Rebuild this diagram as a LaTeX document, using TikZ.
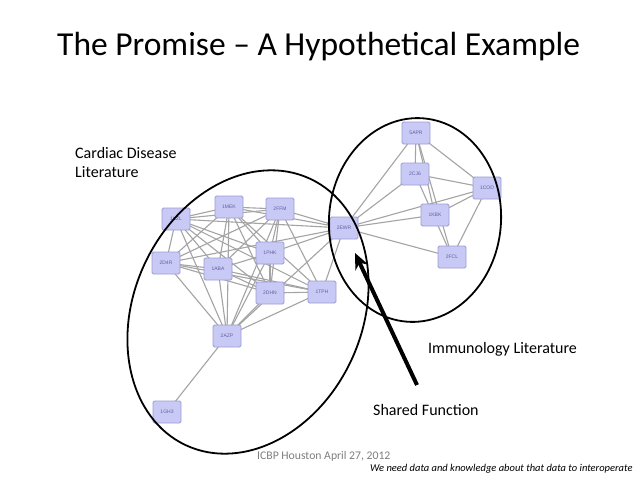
\documentclass[tikz,border=0pt]{standalone}
\usepackage{fontspec}
\setmainfont{Carlito}
\newfontfamily\protfont{Liberation Sans}
\usetikzlibrary{arrows.meta}
\pgfdeclarelayer{bg}
\pgfsetlayers{bg,main}
\definecolor{boxfill}{HTML}{C9C9F6}
\definecolor{boxline}{HTML}{9C9CD2}
\definecolor{boxtext}{HTML}{6060A0}
\definecolor{edgegray}{HTML}{A4A4A4}
\definecolor{footgray}{HTML}{7F7F7F}
\tikzset{
  prot/.style={draw=boxline, fill=boxfill, line width=0.9pt, rounded corners=1.5pt,
    minimum width=28pt, minimum height=22pt, inner sep=0pt,
    font=\protfont\fontsize{5}{6}\selectfont, text=boxtext},
  link/.style={draw=edgegray, line width=1.1pt},
  ring/.style={draw=black, line width=1.8pt},
  lbl/.style={anchor=base west, inner sep=0pt, font=\fontsize{16}{19}\selectfont},
  foot/.style={anchor=base west, inner sep=0pt}
}
\begin{document}
\begin{tikzpicture}[x=1pt,y=-1pt]
\useasboundingbox (0,0) rectangle (638,479);
% nodes
\node[prot] (KZL) at (176,219) {1KZL};
\node[prot] (MEK) at (229,207) {1MEK};
\node[prot] (FFM) at (280,209) {2FFM};
\node[prot] (EWR) at (344,228) {2EWR};
\node[prot] (D4R) at (166,263) {2D4R};
\node[prot] (ABA) at (218,269) {1ABA};
\node[prot] (PHK) at (270,253) {1PHK};
\node[prot] (DHN) at (270,293) {2DHN};
\node[prot] (TPH) at (322,292) {1TPH};
\node[prot] (AZP) at (227,336) {2AZP};
\node[prot] (GHX) at (167,412) {1GH3};
\node[prot] (APR) at (416,133) {5APR};
\node[prot] (CJ6) at (415,174) {2CJ6};
\node[prot] (COD) at (487,188) {1COD};
\node[prot] (KBK) at (435,215) {1KBK};
\node[prot] (FCL) at (452,257) {2FCL};
% background and edges (drawn behind nodes)
\begin{pgfonlayer}{bg}
\fill[white] (0,0) rectangle (638,479);
\foreach \a/\b in {KZL/MEK,KZL/FFM,KZL/EWR,KZL/D4R,KZL/ABA,KZL/PHK,KZL/DHN,KZL/TPH,KZL/AZP,
  MEK/FFM,MEK/EWR,MEK/D4R,MEK/ABA,MEK/PHK,MEK/DHN,MEK/TPH,MEK/AZP,
  FFM/EWR,FFM/D4R,FFM/ABA,FFM/PHK,FFM/DHN,FFM/TPH,FFM/AZP,
  D4R/ABA,D4R/EWR,D4R/DHN,D4R/TPH,D4R/AZP,
  ABA/PHK,ABA/DHN,ABA/TPH,ABA/AZP,
  PHK/DHN,PHK/EWR,PHK/AZP,
  DHN/TPH,DHN/AZP,TPH/EWR,TPH/AZP,AZP/EWR,AZP/GHX,
  APR/EWR,APR/CJ6,APR/KBK,APR/FCL,APR/COD,
  CJ6/COD,CJ6/EWR,CJ6/FCL,
  COD/EWR,COD/KBK,COD/FCL,
  KBK/EWR,FCL/EWR}
  \draw[link] (\a.center) -- (\b.center);
\end{pgfonlayer}
% ellipses
\draw[ring, rotate around={-25:(248,312)}] (248,312) ellipse [x radius=114pt, y radius=147pt];
\draw[ring, rotate around={-5:(415,220)}] (415,220) ellipse [x radius=86pt, y radius=102pt];
% arrow
\coordinate (tail) at (417,385);
\coordinate (tip) at (355,253);
\draw[line width=4pt, -{Stealth[length=16pt,width=14pt]}] (tail) -- (tip);
% texts
\node[anchor=base west, inner sep=0pt, font=\fontsize{33.5}{40}\selectfont] (title) at (57,55) {The Promise -- A Hypothetical Example};
\node[lbl] (cd1) at (75,158) {Cardiac Disease};
\node[lbl] (cd2) at (75,177) {Literature};
\node[lbl] (imm) at (428,353) {Immunology Literature};
\node[lbl] (sf) at (373,415) {Shared Function};
\node[foot, text=footgray, font=\fontsize{11.7}{14}\selectfont] (icbp) at (257,459) {ICBP Houston April 27, 2012};
\node[foot, font=\fontsize{10.5}{12}\selectfont\itshape] (need) at (370,471) {We need data and knowledge about that data to interoperate};
\end{tikzpicture}
\end{document}
